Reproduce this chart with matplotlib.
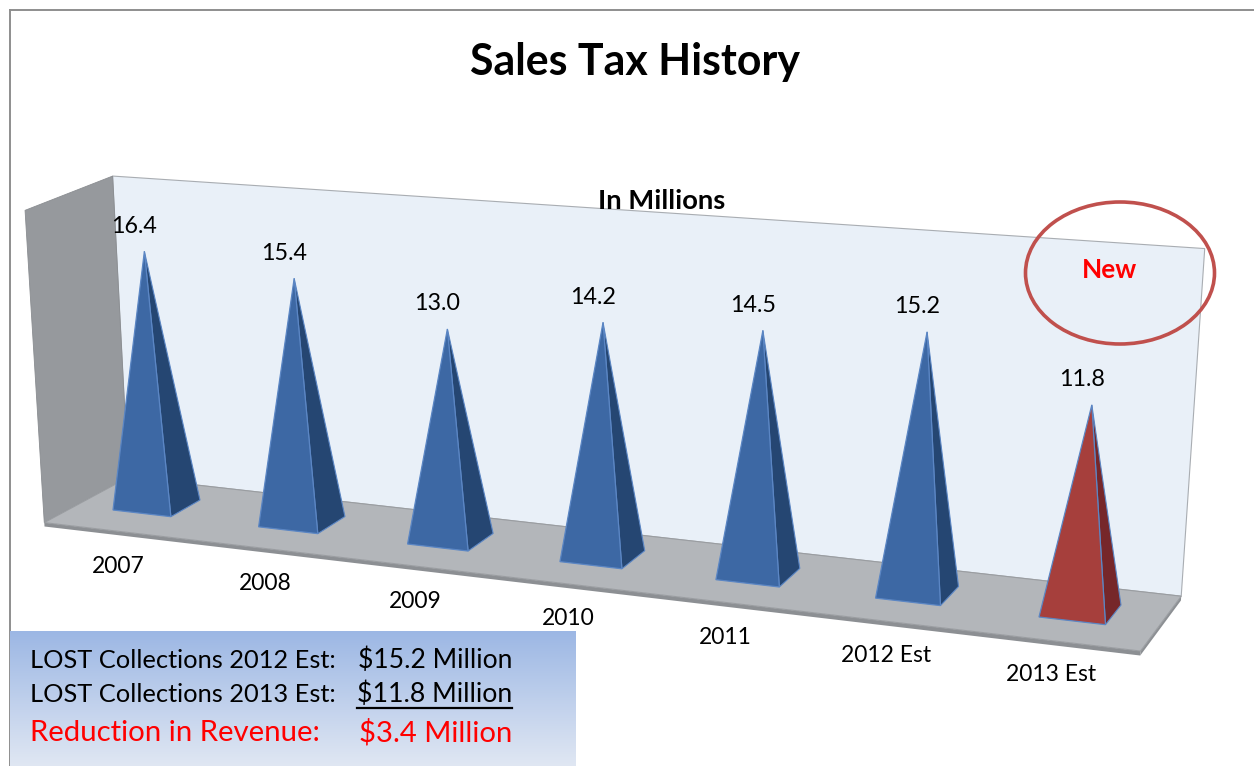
import numpy as np
import matplotlib
matplotlib.use("Agg")
import matplotlib.pyplot as plt
from matplotlib.patches import Polygon, Ellipse

# ---------------- data ----------------
categories = ["2007", "2008", "2009", "2010", "2011", "2012 Est", "2013 Est"]
values = [16.4, 15.4, 13.0, 14.2, 14.5, 15.2, 11.8]
value_labels = ["16.4", "15.4", "13.0", "14.2", "14.5", "15.2", "11.8"]
highlight = [False, False, False, False, False, False, True]
y_max = 20

title = "Sales Tax History"
subtitle = "In Millions"
note_label = "New"
box_labels = ["LOST Collections 2012 Est:", "LOST Collections 2013 Est:", "Reduction in Revenue:"]
box_values = ["$15.2 Million", "$11.8 Million", "$3.4 Million"]

# ---------------- figure ----------------
W, H = 1254, 766
plt.rcParams["font.family"] = ["Lato", "DejaVu Sans"]
fig = plt.figure(figsize=(12.54, 7.66), dpi=100)
ax = fig.add_axes([0, 0, 1, 1])
ax.set_xlim(0, W)
ax.set_ylim(H, 0)
ax.axis("off")

# ---------------- 3D projection (ground homography + height scale) ----------------
N = len(categories)
BAR_X0, BAR_X1 = 0.3, 0.7          # bar footprint within a category slot
# calibration of the ground plane: (slot coord, depth coord) -> pixel
calib_world = [(0.3, 0.0), (6.3, 0.0), (6.7, 1.0), (0.7, 1.0)]
calib_px = [(113, 510), (1039, 617), (1121, 605), (200, 500)]
A, b = [], []
for (u, v), (x, y) in zip(calib_world, calib_px):
    A.append([u, v, 1, 0, 0, 0, -u * x, -v * x]); b.append(x)
    A.append([0, 0, 0, u, v, 1, -u * y, -v * y]); b.append(y)
Hm = np.append(np.linalg.solve(np.array(A, float), np.array(b, float)), 1).reshape(3, 3)

S0, S1 = 15.3, 0.333               # px per unit of value (grows toward viewer)
LEAN_X0, LEAN_K = 586.0, 8800.0    # convergence of vertical edges
Z_FRONT, Z_BACK = -1.0, 1.75       # floor extent in depth
X_LEFT, X_RIGHT = 0.04, N          # floor extent along categories


def proj(X, Z, Y):
    p = Hm @ np.array([X, Z, 1.0])
    bx, by = p[0] / p[2], p[1] / p[2]
    dy = Y * (S0 + S1 * X - 0.2 * (Z - 0.5))
    dx = (bx - LEAN_X0) / LEAN_K * dy
    return (bx + dx, by - dy)


# ---------------- frame ----------------
ax.plot([10, W], [10, 10], color="#8E8E8E", lw=1.4, zorder=1)
ax.plot([10, 10], [10, H], color="#8E8E8E", lw=1.4, zorder=1)

# ---------------- walls & floor ----------------
back = [proj(X_LEFT, Z_BACK, 0), proj(X_RIGHT, Z_BACK, 0),
        proj(X_RIGHT, Z_BACK, y_max), proj(X_LEFT, Z_BACK, y_max)]
ax.add_patch(Polygon(back, closed=True, facecolor="#E9F0F8", edgecolor="#A9ADB2", lw=0.8, zorder=2))
side = [proj(X_LEFT, Z_FRONT, 0), proj(X_LEFT, Z_BACK, 0),
        proj(X_LEFT, Z_BACK, y_max), proj(X_LEFT, Z_FRONT, y_max)]
ax.add_patch(Polygon(side, closed=True, facecolor="#96999D", edgecolor="#8A8D91", lw=0.6, zorder=2))
T = 0.25
front_face = [proj(X_LEFT, Z_FRONT, 0), proj(X_RIGHT, Z_FRONT, 0),
              proj(X_RIGHT, Z_FRONT, -T), proj(X_LEFT, Z_FRONT, -T)]
ax.add_patch(Polygon(front_face, closed=True, facecolor="#8C8F93", edgecolor="none", zorder=2))
right_face = [proj(X_RIGHT, Z_FRONT, 0), proj(X_RIGHT, Z_BACK, 0),
              proj(X_RIGHT, Z_BACK, -T), proj(X_RIGHT, Z_FRONT, -T)]
ax.add_patch(Polygon(right_face, closed=True, facecolor="#8C8F93", edgecolor="none", zorder=2))
floor = [proj(X_LEFT, Z_FRONT, 0), proj(X_RIGHT, Z_FRONT, 0),
         proj(X_RIGHT, Z_BACK, 0), proj(X_LEFT, Z_BACK, 0)]
ax.add_patch(Polygon(floor, closed=True, facecolor="#B3B6BA", edgecolor="#9A9DA1", lw=0.8, zorder=3))

renderer = fig.canvas.get_renderer()


def fit_width(t, target):
    for _ in range(2):
        w = t.get_window_extent(renderer).width
        t.set_fontsize(t.get_fontsize() * target / w)
    return t.get_fontsize()


# font sizes for value / category labels, fitted on a sample
probe = ax.text(0, 0, value_labels[0], fontsize=16)
val_fs = fit_width(probe, 46)
probe.remove()
probe = ax.text(0, 0, categories[0], fontsize=16)
cat_fs = fit_width(probe, 53)
probe.remove()

# ---------------- pyramids ----------------
for i, v in enumerate(values):
    if highlight[i]:
        c_front, c_side = "#A63F3C", "#76272A"
    else:
        c_front, c_side = "#3D68A4", "#254672"
    fl = proj(i + BAR_X0, 0, 0)
    fr = proj(i + BAR_X1, 0, 0)
    br = proj(i + BAR_X1, 1, 0)
    apex = proj(i + 0.5, 0.5, v)
    ax.add_patch(Polygon([fr, br, apex], closed=True, facecolor=c_side,
                         edgecolor="#5B86C4", lw=0.8, zorder=5))
    ax.add_patch(Polygon([fl, fr, apex], closed=True, facecolor=c_front,
                         edgecolor="#5B86C4", lw=0.9, zorder=6))
    ax.text(apex[0] - 10, apex[1] - 25, value_labels[i], ha="center", va="center",
            fontsize=val_fs, color="black", zorder=8)
    lx, ly = proj(i + 0.4, -0.3, 0)
    ax.text(lx, ly + 50, categories[i], ha="center", va="center",
            fontsize=cat_fs, color="black", zorder=8)

# ---------------- titles ----------------
t_title = ax.text(635, 62, title, ha="center", va="center", fontsize=30,
                  fontweight="bold", color="black", zorder=9)
fit_width(t_title, 330)
t_sub = ax.text(662, 201, subtitle, ha="center", va="center", fontsize=17,
                fontweight="bold", color="black", zorder=9)
fit_width(t_sub, 127)
t_new = ax.text(1110, 270, note_label, ha="center", va="center", fontsize=16,
                fontweight="bold", color="#FF0000", zorder=9)
fit_width(t_new, 55)
ax.add_patch(Ellipse((1120, 273), 189, 142, facecolor="none", edgecolor="#C0504D",
                     lw=2.6, zorder=9))

# ---------------- bottom box ----------------
grad = np.linspace(0, 1, 200)[:, None]
top_c = np.array([156, 183, 228]) / 255
bot_c = np.array([224, 231, 243]) / 255
img = top_c[None, None, :] * (1 - grad[:, :, None]) + bot_c[None, None, :] * grad[:, :, None]
img = np.repeat(img, 2, axis=1)
ax.imshow(img, extent=(10, 576, H, 631), aspect="auto", zorder=10, interpolation="bilinear")
ax.set_xlim(0, W)
ax.set_ylim(H, 0)

line_y = [660, 694, 733]
colors = ["black", "black", "#FF0000"]
label_w = [306, 306, 290]
value_w = [155, 155, 153]
for k in range(3):
    tl = ax.text(30, line_y[k], box_labels[k], ha="left", va="center", fontsize=17,
                 color=colors[k], zorder=11)
    fit_width(tl, label_w[k])
    tv = ax.text(512, line_y[k], box_values[k], ha="right", va="center", fontsize=17,
                 color=colors[k], zorder=11)
    fit_width(tv, value_w[k])
    if k == 1:
        bb = tv.get_window_extent(renderer)
        inv = ax.transData.inverted()
        (ux0, uy0) = inv.transform((bb.x0, bb.y0))
        (ux1, _) = inv.transform((bb.x1, bb.y0))
        ax.plot([ux0, ux1], [uy0 + 1, uy0 + 1], color="black", lw=1.6, zorder=11)

fig.savefig("out.png", dpi=100)
